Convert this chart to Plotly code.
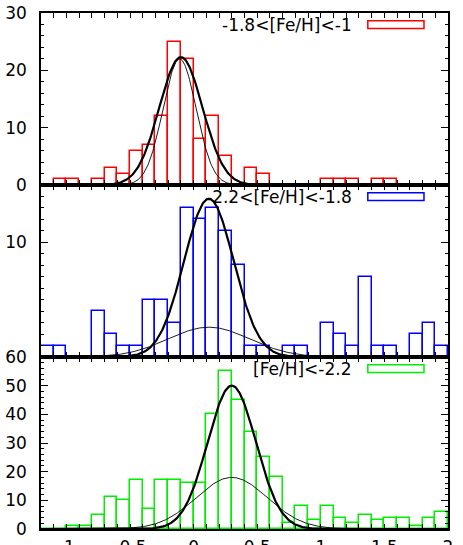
import numpy as np
import plotly.graph_objects as go
from plotly.subplots import make_subplots

# bin centres of the 0.1 dex histograms
bin_centers = [-1.15, -1.05, -0.95, -0.85, -0.75, -0.65, -0.55, -0.45, -0.35, -0.25,
               -0.15, -0.05, 0.05, 0.15, 0.25, 0.35, 0.45, 0.55, 0.65, 0.75,
               0.85, 0.95, 1.05, 1.15, 1.25, 1.35, 1.45, 1.55, 1.65, 1.75,
               1.85, 1.95]

# counts per bin, one list per metallicity group
counts_metal_rich = [0, 1, 1, 0, 1, 3, 2, 6, 7, 12,
                     25, 22, 8, 12, 5, 0, 3, 2, 0, 0,
                     0, 0, 1, 1, 1, 0, 1, 1, 0, 0,
                     0, 0]
counts_mid = [1, 1, 0, 0, 4, 2, 1, 1, 5, 5,
              3, 13, 12, 13, 11, 8, 1, 1, 0, 1,
              1, 0, 3, 2, 1, 7, 1, 1, 0, 2,
              3, 1]
counts_metal_poor = [0, 0, 1, 1, 5, 11, 10, 17, 7, 17,
                     17, 16, 16, 40, 55, 45, 34, 25, 18, 2,
                     8, 3, 8, 4, 2, 5, 3, 4, 4, 1,
                     4, 6]

labels = ["-1.8<[Fe/H]<-1", "-2.2<[Fe/H]<-1.8", "[Fe/H]<-2.2"]
colors = ["#ff0000", "#0000ff", "#00ee00"]

# gaussian fits (amplitude, mean, sigma): thick = total fit, thin = second component
fit_thick = [(22.3, -0.10, 0.17), (13.8, 0.12, 0.195), (50.0, 0.30, 0.19)]
fit_thin = [(22.0, -0.11, 0.13), (2.6, 0.12, 0.32), (18.0, 0.30, 0.28)]

# dotted reference lines per panel
vlines = [[-0.4, 0.5], [-0.4, -0.1, 0.5, 0.7], [-0.1, 0.7]]
vline_colors = ["#999999", "#888888", "#666666"]

y_ranges = [[0, 30], [0, 15], [0, 60]]
y_ticks = [[0, 10, 20, 30], [0, 10], [0, 10, 20, 30, 40, 50, 60]]
y_ticktext = [["0", "10", "20", "30"], ["", "10"],
              ["0", "10", "20", "30", "40", "50", "60"]]
y_minor = [2, 1, 2]

x_ticks = [-1, -0.5, 0, 0.5, 1, 1.5, 2]
x_ticktext = ["-1", "-0.5", "0", "0.5", "1", "1.5", "2"]

all_counts = [counts_metal_rich, counts_mid, counts_metal_poor]

FONT = "DejaVu Sans"

fig = make_subplots(rows=3, cols=1, shared_xaxes=True, vertical_spacing=0)

xs = np.linspace(-1.2, 2.0, 500)


def gauss(x, a, m, s):
    return a * np.exp(-(x - m) ** 2 / (2 * s ** 2))


for i in range(3):
    row = i + 1
    # dotted lines first so bars sit over them
    for xv in vlines[i]:
        fig.add_vline(x=xv, row=row, col=1,
                      line=dict(color=vline_colors[i], width=1.2, dash="dot"))

    fig.add_trace(go.Bar(
        x=bin_centers, y=all_counts[i], width=0.1,
        marker=dict(color="rgba(0,0,0,0)", line=dict(color=colors[i], width=1.5)),
        showlegend=False,
    ), row=row, col=1)

    fig.add_trace(go.Scatter(
        x=xs, y=gauss(xs, *fit_thin[i]), mode="lines",
        line=dict(color="black", width=0.9), showlegend=False,
    ), row=row, col=1)
    fig.add_trace(go.Scatter(
        x=xs, y=gauss(xs, *fit_thick[i]), mode="lines",
        line=dict(color="black", width=2.2), showlegend=False,
    ), row=row, col=1)

    yref = "y domain" if row == 1 else f"y{row} domain"
    xref = "x domain" if row == 1 else f"x{row} domain"
    # legend: label text plus an open rectangle sample
    fig.add_annotation(text=labels[i], xref=xref, yref=yref, x=0.768, y=0.93,
                       xanchor="right", yanchor="middle", showarrow=False,
                       font=dict(family=FONT, size=17, color="black"))
    fig.add_shape(type="rect", xref=xref, yref=yref, x0=0.803, x1=0.941,
                  y0=0.91, y1=0.955, line=dict(color=colors[i], width=1.5),
                  fillcolor="rgba(0,0,0,0)")

    fig.update_yaxes(range=y_ranges[i], tickvals=y_ticks[i], ticktext=y_ticktext[i],
                     row=row, col=1, automargin=False, ticklabeloverflow="allow",
                     ticks="inside", ticklen=7, tickwidth=1, tickcolor="black",
                     minor=dict(dtick=y_minor[i], ticks="inside", ticklen=3.5,
                                tickcolor="black"),
                     showline=True, linecolor="black", linewidth=1.5, mirror="ticks",
                     showgrid=False, zeroline=False, ticklabelstandoff=9,
                     tickfont=dict(family=FONT, size=17, color="black"))

    fig.update_xaxes(range=[-1.2, 2.0], tickvals=x_ticks, ticktext=x_ticktext,
                     row=row, col=1, automargin=False, ticklabeloverflow="allow",
                     ticks="inside", ticklen=5, tickwidth=1, tickcolor="black",
                     minor=dict(dtick=0.1, ticks="inside", ticklen=5,
                                tickcolor="black"),
                     showline=True, linecolor="black", linewidth=1.5, mirror="ticks",
                     showgrid=False, zeroline=False,
                     showticklabels=(row == 3), ticklabelstandoff=2,
                     tickfont=dict(family=FONT, size=17, color="black"))

fig.update_layout(
    width=463, height=545,
    margin=dict(l=41, r=15, t=13, b=16),
    paper_bgcolor="white", plot_bgcolor="white",
    bargap=0, barmode="overlay",
    showlegend=False,
)

# drop the default body margin so the figure fills the window exactly
fig.write_html("out.html", config={"displayModeBar": False},
               post_script="document.body.style.margin='0';")
